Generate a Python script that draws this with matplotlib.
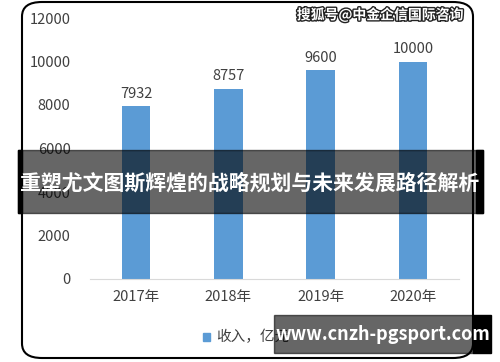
import matplotlib
matplotlib.use("Agg")
import matplotlib.pyplot as plt
import matplotlib.patheffects as pe
from matplotlib.patches import FancyBboxPatch, Rectangle

plt.rcParams["font.family"] = ["Noto Sans CJK SC", "DejaVu Sans"]

years = ["2017年", "2018年", "2019年", "2020年"]
revenue = [7932, 8757, 9600, 10000]
yticks = [0, 2000, 4000, 6000, 8000, 10000, 12000]
legend_label = "收入，亿元"
title = "重塑尤文图斯辉煌的战略规划与未来发展路径解析"
watermark = "搜狐号@中金企信国际咨询"
site = "www.cnzh-pgsport.com"

W, H = 500, 362
fig = plt.figure(figsize=(W / 100, H / 100), dpi=100)
ax = fig.add_axes([90 / W, 1 - 279 / H, (459 - 90) / W, (279 - 18) / H])

text_c = "#404040"
bars = ax.bar(range(len(years)), revenue, width=0.31, color="#5B9BD5", zorder=2)
for b, v in zip(bars, revenue):
    ax.text(b.get_x() + b.get_width() / 2, v + 250, f"{v}", ha="center", va="bottom",
            fontsize=10.5, color=text_c)

ax.set_xlim(-0.5, 3.5)
ax.set_ylim(0, 12000)
ax.set_yticks(yticks)
ax.set_yticklabels([str(t) for t in yticks], fontsize=10.5, color=text_c)
ax.set_xticks(range(len(years)))
ax.set_xticklabels(years, fontsize=10.5, color=text_c)
ax.tick_params(length=0, pad=14)
ax.tick_params(axis="x", pad=8)
for s in ["top", "right", "left"]:
    ax.spines[s].set_visible(False)
ax.spines["bottom"].set_color("#d9d9d9")

# legend
fig.patches.append(Rectangle((203 / W, 1 - 341 / H), 7 / W, 8 / H,
                             transform=fig.transFigure, color="#5B9BD5"))
fig.text(216 / W, 1 - 337 / H, legend_label, fontsize=10.5, color=text_c, va="center")

# rounded frame
fig.patches.append(FancyBboxPatch((22 / W, 4 / H), 451 / W, 356 / H,
                                  boxstyle="round,pad=0,rounding_size=0.04",
                                  transform=fig.transFigure, fill=False,
                                  edgecolor="black", linewidth=1.5, zorder=5))

# watermark
fig.text(380 / W, 1 - 15 / H, watermark, fontsize=10, color="white", ha="center",
         va="center", weight="bold",
         path_effects=[pe.withStroke(linewidth=2, foreground="#222222")])

# title band
fig.patches.append(Rectangle((18 / W, 1 - 213 / H), 465 / W, 63 / H,
                             transform=fig.transFigure, color="black", alpha=0.6, zorder=10))
fig.patches.append(Rectangle((18 / W, 1 - 213 / H), 4 / W, 63 / H,
                             transform=fig.transFigure, color="black", zorder=10))
fig.patches.append(Rectangle((476 / W, 1 - 213 / H), 7 / W, 63 / H,
                             transform=fig.transFigure, color="black", zorder=10))
fig.text(250 / W, 1 - 183 / H, title, fontsize=15, color="white", weight="bold",
         ha="center", va="center", zorder=11)

# site box
fig.patches.append(Rectangle((274 / W, 1 - 353 / H), 199 / W, 38 / H,
                             transform=fig.transFigure, color="black", alpha=0.6, zorder=10))
fig.patches.append(Rectangle((473 / W, 1 - 353 / H), 18 / W, 38 / H,
                             transform=fig.transFigure, color="black", zorder=10))
fig.text(383 / W, 1 - 335 / H, site, fontsize=13, color="white", weight="bold",
         ha="center", va="center", zorder=11)

fig.savefig("out.png", dpi=100)
